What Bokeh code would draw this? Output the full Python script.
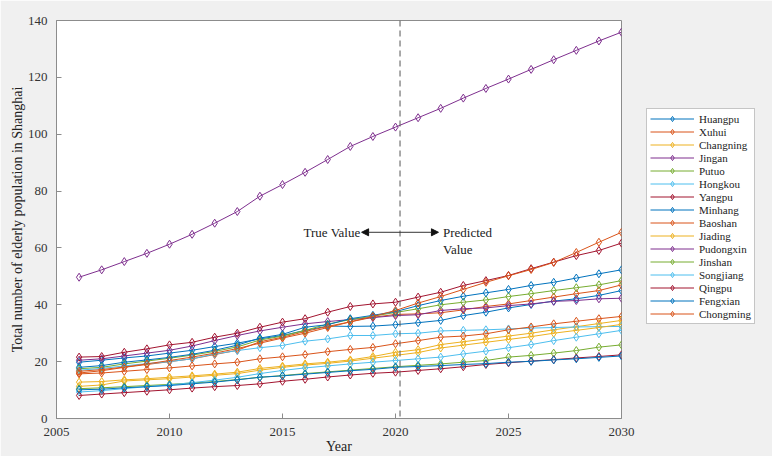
from bokeh.plotting import figure
from bokeh.models import (Legend, LegendItem, Span, Arrow, NormalHead,
                          Label, Range1d, SingleIntervalTicker)
from bokeh.embed import file_html
from bokeh.resources import INLINE

years = list(range(2006, 2031))

names = ["Huangpu", "Xuhui", "Changning", "Jingan", "Putuo", "Hongkou", "Yangpu",
         "Minhang", "Baoshan", "Jiading", "Pudongxin", "Jinshan", "Songjiang",
         "Qingpu", "Fengxian", "Chongming"]

huangpu = [19.8, 20.5, 21.3, 22.0, 23.0, 24.0, 25.3, 26.5, 28.0, 29.2, 31.0, 32.5, 32.4,
           32.5, 33.0, 33.7, 34.5, 36.2, 37.4, 38.9, 40.1, 41.3, 42.1, 43.3, 45.0]
xuhui = [16.0, 16.8, 18.0, 19.0, 20.0, 21.0, 22.5, 24.0, 27.0, 28.6, 30.6, 32.4, 34.0,
         35.6, 36.6, 36.8, 37.2, 38.2, 39.4, 40.3, 41.5, 42.7, 43.9, 45.0, 47.0]
changning = [12.8, 13.0, 13.6, 14.0, 14.5, 15.0, 15.6, 16.3, 17.6, 18.4, 19.2, 19.8, 20.6,
             21.8, 23.3, 24.2, 26.0, 27.0, 28.0, 29.0, 30.0, 31.2, 32.3, 33.4, 34.5]
jingan = [20.5, 21.0, 22.0, 23.0, 24.0, 25.5, 27.4, 29.2, 30.8, 32.1, 33.3, 34.1, 34.8,
          35.5, 36.2, 36.5, 38.0, 38.6, 38.9, 39.7, 40.3, 41.2, 41.5, 42.1, 42.3]
putuo = [17.5, 18.0, 19.2, 20.2, 21.2, 22.3, 23.6, 25.2, 27.6, 29.0, 31.0, 33.2, 34.8,
         36.0, 37.3, 38.6, 40.0, 40.9, 41.7, 42.9, 43.9, 45.0, 46.0, 47.0, 48.5]
hongkou = [17.0, 17.6, 18.5, 19.3, 20.0, 21.0, 22.7, 23.9, 24.9, 25.7, 27.2, 28.0, 29.2,
           29.2, 29.8, 30.0, 30.8, 31.0, 31.2, 31.5, 31.8, 32.0, 32.2, 32.3, 32.4]
yangpu = [21.6, 21.8, 23.3, 24.5, 25.9, 26.8, 28.6, 30.0, 32.1, 33.9, 35.1, 37.4, 39.4,
          40.3, 40.9, 42.7, 44.4, 46.8, 48.5, 50.3, 52.7, 55.0, 57.3, 59.1, 61.7]
minhang = [18.0, 18.6, 19.8, 20.6, 21.5, 22.6, 24.0, 25.8, 28.3, 29.6, 32.1, 33.0, 35.1,
           36.3, 37.6, 39.7, 41.5, 43.0, 44.2, 45.4, 46.8, 47.9, 49.4, 50.9, 52.3]
baoshan = [16.6, 17.2, 18.1, 19.2, 20.4, 21.6, 23.0, 24.6, 26.5, 28.3, 30.0, 32.0, 34.0,
           35.9, 38.0, 40.6, 42.9, 45.4, 47.9, 50.2, 52.4, 54.9, 58.4, 62.0, 65.5]
jiading = [11.3, 11.8, 13.2, 13.6, 14.0, 14.6, 15.2, 15.8, 17.0, 18.0, 18.8, 19.4, 20.2,
           21.2, 22.2, 23.2, 24.8, 25.8, 26.8, 27.8, 28.8, 30.0, 31.0, 32.0, 33.1]
pudongxin = [49.7, 52.3, 55.2, 58.1, 61.3, 64.8, 68.7, 72.8, 78.2, 82.3, 86.6, 91.1, 95.7,
             99.2, 102.5, 105.8, 109.1, 112.7, 116.1, 119.4, 122.8, 126.2, 129.5, 132.8, 135.9]
jinshan = [10.5, 10.8, 11.2, 11.6, 12.0, 12.5, 13.0, 13.7, 14.5, 15.1, 15.8, 16.4, 17.0,
           17.6, 18.2, 18.7, 19.2, 19.8, 20.4, 21.6, 22.2, 23.0, 23.9, 25.1, 25.9]
songjiang = [9.3, 9.8, 10.5, 11.2, 11.8, 12.6, 13.5, 14.5, 15.8, 16.9, 17.8, 18.5, 19.2,
             19.8, 20.4, 21.0, 21.6, 22.7, 23.7, 24.9, 26.0, 27.4, 28.6, 29.8, 31.0]
qingpu = [8.1, 8.6, 9.1, 9.6, 10.1, 10.7, 11.2, 11.6, 12.2, 13.1, 13.8, 14.6, 15.3,
          15.9, 16.3, 16.9, 17.5, 18.2, 19.0, 19.6, 20.2, 20.7, 21.3, 21.8, 22.4]
fengxian = [10.1, 10.3, 10.8, 11.2, 11.6, 12.2, 12.8, 13.6, 14.5, 15.0, 15.6, 16.2, 16.8,
            17.3, 18.0, 18.3, 18.6, 19.0, 19.3, 19.8, 20.1, 20.6, 21.0, 21.5, 22.0]
chongming = [15.7, 16.0, 16.6, 17.2, 17.8, 18.5, 19.2, 19.8, 21.0, 21.7, 22.5, 23.5, 24.3,
             25.0, 26.3, 27.4, 28.6, 29.0, 29.8, 31.2, 32.2, 33.3, 34.2, 35.1, 35.9]

series = [huangpu, xuhui, changning, jingan, putuo, hongkou, yangpu, minhang, baoshan,
          jiading, pudongxin, jinshan, songjiang, qingpu, fengxian, chongming]

palette = ["#0072BD", "#D95319", "#EDB120", "#7E2F8E", "#77AC30", "#4DBEEE", "#A2142F"]

split_year = 2020.2
arrow_y = 65.5

FONT = "Liberation Serif"
GRAY = "#8c8c8c"

p = figure(width=772, height=456, frame_width=565, frame_height=398,
           output_backend="svg", toolbar_location=None,
           x_range=Range1d(2005, 2030), y_range=Range1d(0, 140),
           min_border_left=56, min_border_top=20, min_border_bottom=38, min_border_right=0)
p.background_fill_color = "white"
p.border_fill_color = "#f0f0f0"
p.outline_line_color = GRAY
p.grid.visible = False

p.xaxis.ticker = SingleIntervalTicker(interval=5)
p.yaxis.ticker = SingleIntervalTicker(interval=20)
for ax in (p.xaxis[0], p.yaxis[0]):
    ax.major_tick_in = 5
    ax.major_tick_out = 0
    ax.minor_tick_line_color = None
    ax.axis_line_color = GRAY
    ax.major_tick_line_color = GRAY
    ax.major_label_text_font = FONT
    ax.major_label_text_font_size = "13px"
    ax.major_label_text_color = "#333333"
    ax.axis_label_text_font = FONT
    ax.axis_label_text_font_size = "14px"
    ax.axis_label_text_font_style = "normal"
    ax.axis_label_text_color = "#222222"
p.xaxis.axis_label = "Year"
p.yaxis.axis_label = "Total number of elderly population in Shanghai"
p.xaxis.major_label_standoff = 5
p.yaxis.major_label_standoff = 5
p.xaxis.axis_label_standoff = 0
p.yaxis.axis_label_standoff = 0

items = []
for i, (name, vals) in enumerate(zip(names, series)):
    c = palette[i % 7]
    r1 = p.line(years, vals, line_color=c, line_width=1)
    r2 = p.scatter(years, vals, marker="diamond", size=8, fill_color=None,
                   line_color=c, line_width=1)
    items.append(LegendItem(label=name, renderers=[r1, r2]))

p.add_layout(Span(location=split_year, dimension="height", line_color="#555555",
                  line_dash="6 4", line_width=1))

p.add_layout(Arrow(end=NormalHead(size=7, fill_color="#111111", line_color="#111111"),
                   x_start=split_year, y_start=arrow_y, x_end=2018.5, y_end=arrow_y,
                   line_color="#333333", line_width=1))
p.add_layout(Arrow(end=NormalHead(size=7, fill_color="#111111", line_color="#111111"),
                   x_start=split_year, y_start=arrow_y, x_end=2021.9, y_end=arrow_y,
                   line_color="#333333", line_width=1))
p.add_layout(Label(x=2018.45, y=arrow_y, text="True Value", text_align="right",
                   text_baseline="middle", text_font=FONT, text_font_size="13px",
                   text_color="#222222"))
p.add_layout(Label(x=2022.1, y=arrow_y, text="Predicted", text_align="left",
                   text_baseline="middle", text_font=FONT, text_font_size="13px",
                   text_color="#222222"))
p.add_layout(Label(x=2022.1, y=59.3, text="Value", text_align="left",
                   text_baseline="middle", text_font=FONT, text_font_size="13px",
                   text_color="#222222"))

legend = Legend(items=items, location=(25, 94), margin=0, padding=3, spacing=0,
                label_height=13, glyph_height=13, glyph_width=44, label_standoff=5,
                label_text_font=FONT, label_text_font_size="11px",
                label_text_line_height=1.0,
                label_text_color="#222222", border_line_color=GRAY,
                background_fill_color="white", background_fill_alpha=1.0)
p.add_layout(legend, "right")

open("out.html", "w").write(file_html(p, INLINE))
